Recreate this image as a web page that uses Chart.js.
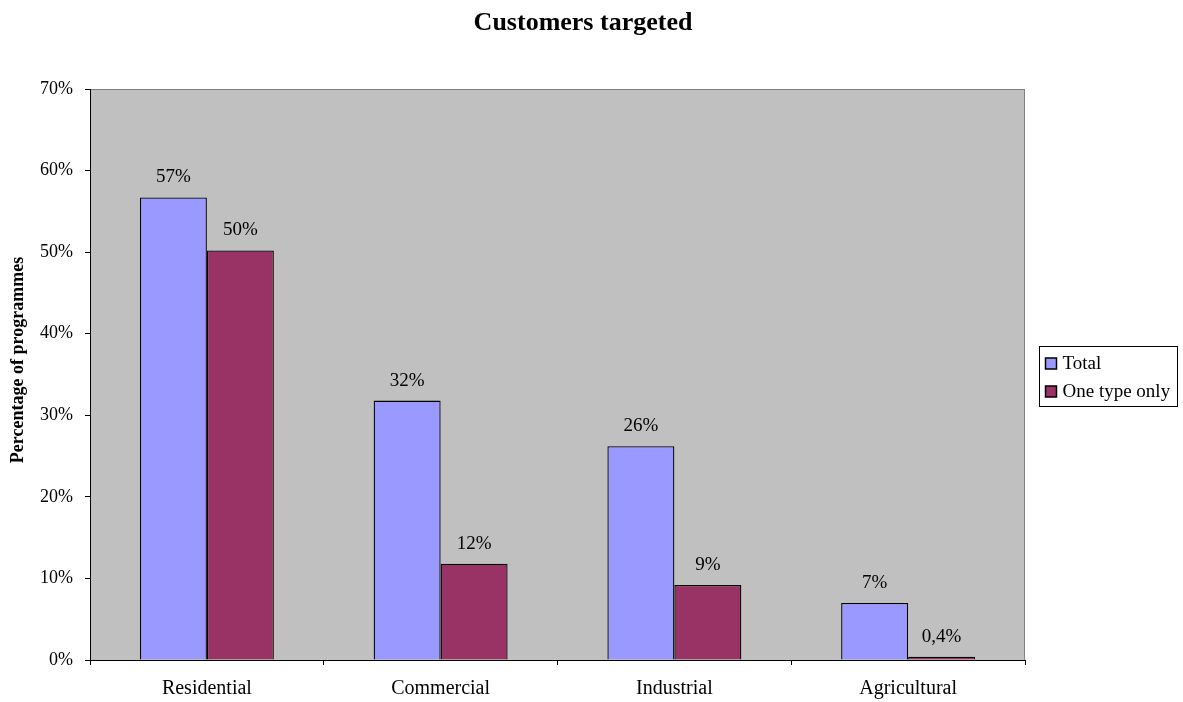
<!DOCTYPE html>
<html>
<head>
<meta charset="utf-8">
<title>Customers targeted</title>
<script src="https://cdn.jsdelivr.net/npm/chart.js@4/dist/chart.umd.min.js"></script>
<style>
  html, body { margin: 0; padding: 0; background: #ffffff; }
  canvas { display: block; }
</style>
</head>
<body>
<canvas id="chart" width="1183" height="702"></canvas>
<script>
// Customer groups targeted by programmes (percentage of programmes)
const categories = ['Residential', 'Commercial', 'Industrial', 'Agricultural'];
const totalValues = [56.7, 31.8, 26.2, 7.0];
const oneTypeValues = [50.2, 11.8, 9.2, 0.4];
const seriesNames = ['Total', 'One type only'];
const seriesColors = ['#9999FF', '#993366'];
const yTicks = [0, 10, 20, 30, 40, 50, 60, 70];
const chartTitle = 'Customers targeted';
const yAxisTitle = 'Percentage of programmes';

const FONT = '"Liberation Serif", "Times New Roman", serif';

// Percent formatter: whole numbers above 1%, one decimal with a comma below
function pct(v) {
  if (v < 1) return v.toFixed(1).replace('.', ',') + '%';
  return Math.round(v) + '%';
}

// Grey plot background with thin frame, plus the heading and the value-axis title
const plotBackground = {
  id: 'plotBackground',
  beforeDraw(chart) {
    const { ctx, chartArea: a } = chart;
    ctx.save();
    ctx.fillStyle = '#C0C0C0';
    ctx.fillRect(a.left, a.top, a.right - a.left, a.bottom - a.top);
    ctx.strokeStyle = '#808080';
    ctx.lineWidth = 1;
    ctx.strokeRect(a.left + 0.5, a.top + 0.5, a.right - a.left - 1, a.bottom - a.top);

    ctx.fillStyle = '#000';
    ctx.textAlign = 'center';
    ctx.textBaseline = 'middle';
    ctx.font = 'bold 26px ' + FONT;
    ctx.fillText(chartTitle, 583, 23);

    ctx.font = 'bold 18px ' + FONT;
    ctx.translate(18, 360);
    ctx.rotate(-Math.PI / 2);
    ctx.fillText(yAxisTitle, 0, 0);
    ctx.restore();
  }
};

// Value labels above each bar
const valueLabels = {
  id: 'valueLabels',
  afterDatasetsDraw(chart) {
    const { ctx } = chart;
    ctx.save();
    ctx.font = '19px ' + FONT;
    ctx.fillStyle = '#000';
    ctx.textAlign = 'center';
    ctx.textBaseline = 'middle';
    chart.data.datasets.forEach((ds, i) => {
      chart.getDatasetMeta(i).data.forEach((bar, j) => {
        ctx.fillText(pct(ds.data[j]), bar.x, bar.y - 20);
      });
    });
    ctx.restore();
  }
};

// Boxed legend to the right of the plot
const boxLegend = {
  id: 'boxLegend',
  afterDraw(chart) {
    const { ctx } = chart;
    const x = 1039.5, y = 346.5, w = 138, h = 60;
    ctx.save();
    ctx.fillStyle = '#fff';
    ctx.fillRect(x, y, w, h);
    ctx.strokeStyle = '#000';
    ctx.lineWidth = 1;
    ctx.strokeRect(x, y, w, h);
    ctx.font = '19px ' + FONT;
    ctx.textAlign = 'left';
    ctx.textBaseline = 'middle';
    chart.data.datasets.forEach((ds, i) => {
      const cy = 363.5 + i * 28;
      ctx.fillStyle = ds.backgroundColor;
      ctx.fillRect(x + 6, cy - 5.5, 11, 11);
      ctx.strokeStyle = '#000';
      ctx.lineWidth = 1.5;
      ctx.strokeRect(x + 6, cy - 5.5, 11, 11);
      ctx.fillStyle = '#000';
      ctx.fillText(ds.label, x + 23, cy + 1);
    });
    ctx.restore();
  }
};

const datasets = [totalValues, oneTypeValues].map((vals, i) => ({
  label: seriesNames[i],
  data: vals,
  backgroundColor: seriesColors[i],
  borderColor: '#000',
  borderWidth: 1.3,
  borderSkipped: 'bottom',
  categoryPercentage: 0.573,
  barPercentage: 1.0
}));

new Chart(document.getElementById('chart'), {
  type: 'bar',
  data: { labels: categories, datasets },
  plugins: [plotBackground, valueLabels, boxLegend],
  options: {
    responsive: false,
    animation: false,
    layout: { padding: { left: 0, right: 158, top: 89, bottom: 0 } },
    plugins: {
      legend: { display: false },
      tooltip: { enabled: false },
      title: { display: false }
    },
    scales: {
      x: {
        offset: true,
        grid: {
          offset: true,
          drawOnChartArea: false,
          drawTicks: true,
          tickLength: 5,
          color: '#000'
        },
        border: { color: '#000', width: 1 },
        ticks: {
          color: '#000',
          font: { family: FONT, size: 20 },
          padding: 12,
          maxRotation: 0
        },
        afterFit(scale) { scale.height = 42; }
      },
      y: {
        min: 0,
        max: 70,
        afterBuildTicks(scale) { scale.ticks = yTicks.map(v => ({ value: v })); },
        grid: {
          drawOnChartArea: false,
          drawTicks: true,
          tickLength: 5,
          color: '#000'
        },
        border: { color: '#000', width: 1 },
        ticks: {
          color: '#000',
          font: { family: FONT, size: 18 },
          padding: 12,
          callback: v => v + '%'
        },
        afterFit(scale) { scale.width = 90; }
      }
    }
  }
});
</script>
</body>
</html>
